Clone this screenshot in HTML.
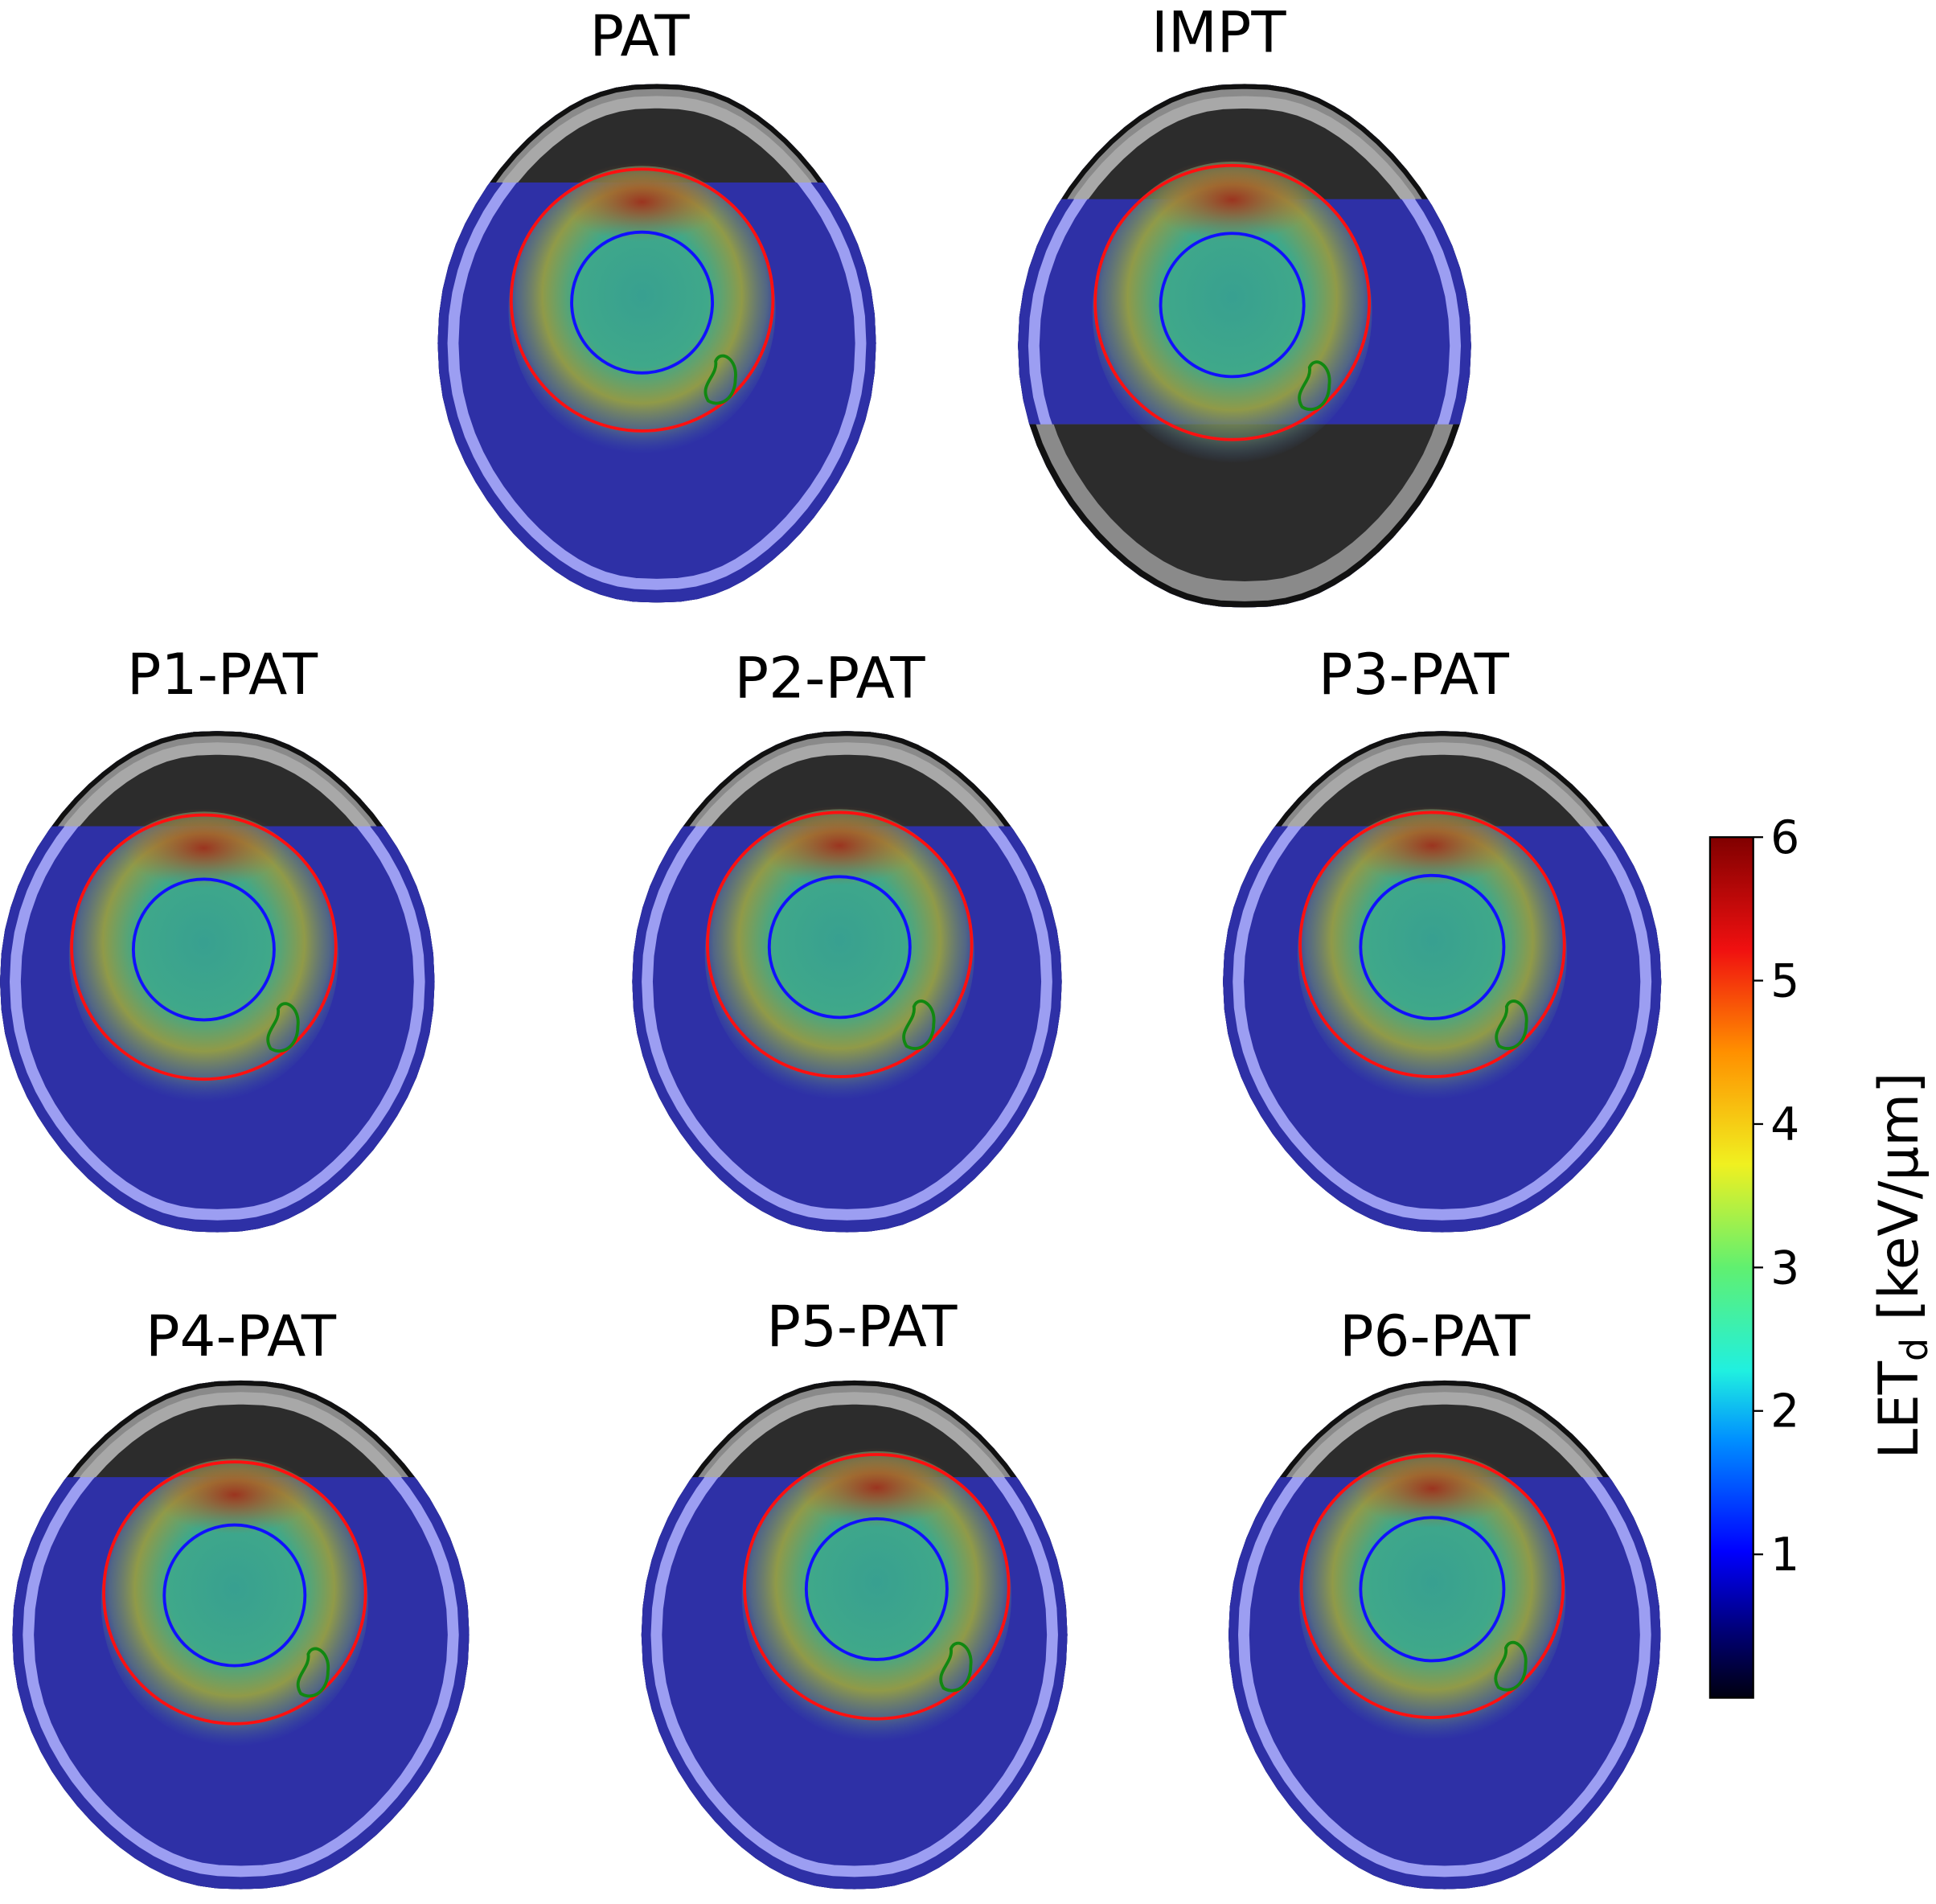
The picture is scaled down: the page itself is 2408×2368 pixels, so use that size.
<!DOCTYPE html>
<html><head><meta charset="utf-8">
<style>
html,body{margin:0;padding:0;background:#fff;}
svg{display:block;}
text{font-family:"DejaVu Sans","Liberation Sans",sans-serif;fill:#000;}
</style></head>
<body>
<svg id="fig" width="2408" height="2368" viewBox="0 0 1568 1542" xmlns="http://www.w3.org/2000/svg">
<defs>
<linearGradient id="cbar" x1="0" y1="1" x2="0" y2="0">
<stop offset="0" stop-color="#000010"/>
<stop offset="0.08" stop-color="#00007a"/>
<stop offset="0.17" stop-color="#0000ff"/>
<stop offset="0.3" stop-color="#0090ff"/>
<stop offset="0.38" stop-color="#20f0e0"/>
<stop offset="0.5" stop-color="#60f070"/>
<stop offset="0.62" stop-color="#f0f020"/>
<stop offset="0.75" stop-color="#ff9000"/>
<stop offset="0.87" stop-color="#f01010"/>
<stop offset="1" stop-color="#800000"/>
</linearGradient>
<radialGradient id="letg" cx="0.5" cy="0.45" r="0.55">
<stop offset="0" stop-color="#38a090"/>
<stop offset="0.45" stop-color="#3fa88a"/>
<stop offset="0.68" stop-color="#909a48"/>
<stop offset="0.85" stop-color="#6a8a70" stop-opacity="0.6"/>
<stop offset="1" stop-color="#3a60a0" stop-opacity="0"/>
</radialGradient>
<radialGradient id="redg" cx="0.5" cy="0.5" r="0.5">
<stop offset="0" stop-color="#a02818" stop-opacity="0.9"/>
<stop offset="1" stop-color="#c06020" stop-opacity="0"/>
</radialGradient>
</defs>
<g id="panels"></g>
<g id="colorbar"></g>
</svg>
<script>
const panelTitles = ["PAT","IMPT","P1-PAT","P2-PAT","P3-PAT","P4-PAT","P5-PAT","P6-PAT"];
const panelCx = [532, 1008, 176, 686, 1168, 195, 692, 1170];
const panelTop = [68, 68, 592, 592, 592, 1118, 1118, 1118];
const panelW = [355, 367, 352, 348, 355, 370, 345, 350];
const panelH = [420, 424, 406, 406, 406, 412, 412, 412];
const titleX = [518, 987, 180, 672, 1145, 195, 698, 1162];
const titleY = [45, 42, 562, 565, 562, 1098, 1090, 1098];
const redCx = [520, 998, 165, 680, 1160, 190, 710, 1160];
const redCy = [243, 245, 767, 765, 765, 1290, 1285, 1285];
const redR = [106, 111, 107, 107, 107, 106, 107, 106];
const blueR = [57, 58, 57, 57, 58, 57, 57, 58];
const cbTicks = [1,2,3,4,5,6];
const cbMin = 0, cbMax = 6;

const NS="http://www.w3.org/2000/svg";
function mk(tag, attrs, parent){const e=document.createElementNS(NS,tag);for(const k in attrs)e.setAttribute(k,attrs[k]);parent.appendChild(e);return e;}
function headPts(cx,y0,w,h,s){
  const cy=y0+h*0.5, pts=[];
  for(let k=0;k<72;k++){
    const t=k/72*2*Math.PI, c=Math.cos(t), sn=Math.sin(t);
    let px=Math.sign(c)*Math.pow(Math.abs(c),0.8);
    let py=Math.sign(sn)*Math.pow(Math.abs(sn),0.9);
    const taper = py<0 ? 1-0.25*Math.pow(-py,2) : 1-0.25*Math.pow(py,2);
    const x=cx+px*0.5*w*taper*s, y=cy+py*0.5*h*s;
    pts.push(x.toFixed(1)+","+y.toFixed(1));
  }
  return pts.join(" ");
}
const root=document.getElementById("panels");
for(let i=0;i<panelTitles.length;i++){
  const cx=panelCx[i],y0=panelTop[i],w=panelW[i],h=panelH[i];
  const g=mk("g",{},root);
  
  
  const cid="clip"+i;
  const cp=mk("clipPath",{id:cid},g);
  mk("polygon",{points:headPts(cx,y0,w,h,1)},cp);
  mk("polygon",{points:headPts(cx,y0,w,h,1),fill:"#1a1a2a"},g);
  const inner=mk("g",{"clip-path":"url(#"+cid+")"},g);
  mk("rect",{x:cx-w,y:y0,width:2*w,height:h,fill:"#2e30a6"},inner);
  mk("polygon",{points:headPts(cx,y0,w,h,1),fill:"none",stroke:"#101060",'stroke-width':8},inner);
  const bandH = i===1 ? 0.22*h : 0.19*h;
  mk("rect",{x:cx-w,y:y0,width:2*w,height:bandH,fill:"#8a8a8a"},inner);
  mk("polygon",{points:headPts(cx,y0,w,h,0.92),fill:"#2c2c2c"},inner);
  mk("rect",{x:cx-w,y:y0+bandH,width:2*w,height:h,fill:"#2e30a6"},inner);
  mk("polygon",{points:headPts(cx,y0,w,h,0.93),fill:"none",stroke:"#9c9ef2",'stroke-width':9},inner);
  const topClip="tc"+i;
  const tcp=mk("clipPath",{id:topClip},g);
  mk("rect",{x:cx-w,y:y0,width:2*w,height:bandH},tcp);
  const tg=mk("g",{"clip-path":"url(#"+topClip+")"},inner);
  mk("polygon",{points:headPts(cx,y0,w,h,0.93),fill:"none",stroke:"#a8a8a8",'stroke-width':10},tg);
  mk("polygon",{points:headPts(cx,y0,w,h,1),fill:"none",stroke:"#111",'stroke-width':8},tg);
  if(i===1){
    const b0=y0+0.65*h;
    const bc="bc"+i;
    const bcp=mk("clipPath",{id:bc},g);
    mk("rect",{x:cx-w,y:b0,width:2*w,height:h},bcp);
    const bg=mk("g",{"clip-path":"url(#"+bc+")"},inner);
    mk("rect",{x:cx-w,y:b0,width:2*w,height:h,fill:"#8a8a8a"},bg);
    mk("polygon",{points:headPts(cx,y0,w,h,0.9),fill:"#2c2c2c"},bg);
    mk("polygon",{points:headPts(cx,y0,w,h,1),fill:"none",stroke:"#111",'stroke-width':10},bg);
  }
  const rc=redCx[i],ry=redCy[i],r=redR[i];
  const blob=mk("ellipse",{cx:rc,cy:ry+8,rx:r*1.02,ry:r*1.1,fill:"url(#letg)"},inner);
  
  
  mk("ellipse",{cx:rc,cy:ry-r*0.75,rx:r*0.6,ry:r*0.3,fill:"url(#redg)"},inner);
  const red=mk("circle",{cx:rc,cy:ry,r:r,fill:"none",stroke:"#ff1010",'stroke-width':2.5},g);
  
  
  const blue=mk("circle",{cx:rc,cy:ry+2,r:blueR[i],fill:"none",stroke:"#1010ff",'stroke-width':2.5},g);
  
  
  const gx=rc+0.6*r, gy=ry+0.6*r;
  const grn=mk("path",{d:`M${gx-10},${gy+18} C${gx-18},${gy+5} ${gx-2},${gy-2} ${gx-4},${gy-14} C${gx},${gy-24} ${gx+14},${gy-16} ${gx+12},${gy} C${gx+12},${gy+16} ${gx},${gy+24} ${gx-10},${gy+18} Z`,fill:"none",stroke:"#118811",'stroke-width':2.5},g);
  
  
  const t=mk("text",{x:titleX[i],y:titleY[i],'font-size':46,'text-anchor':"middle"},g);
  t.textContent=panelTitles[i];
  
  
}
const cb=document.getElementById("colorbar");
const cbX=1385,cbW=35,cbTop=678,cbBot=1375;
function cbY(v){return cbBot-(v-cbMin)/(cbMax-cbMin)*(cbBot-cbTop);}
const bar=mk("rect",{x:cbX,y:cbTop,width:cbW,height:cbBot-cbTop,fill:"url(#cbar)",stroke:"#000",'stroke-width':1.5},cb);


for(const v of cbTicks){
  const y=cbY(v);
  const tk=mk("line",{x1:cbX+cbW,x2:cbX+cbW+8,y1:y,y2:y,stroke:"#000",'stroke-width':1.5},cb);
  
  
  const lb=mk("text",{x:cbX+cbW+14,y:y+13,'font-size':37},cb);
  lb.textContent=v;
  
  
}
const ttl=mk("text",{x:0,y:0,'font-size':44,'text-anchor':"middle",transform:"translate(1553,1025) rotate(-90)"},cb);
ttl.innerHTML='LET<tspan font-size="30" dy="8">d</tspan><tspan dy="-8"> [keV/µm]</tspan>';


</script>
</body></html>
